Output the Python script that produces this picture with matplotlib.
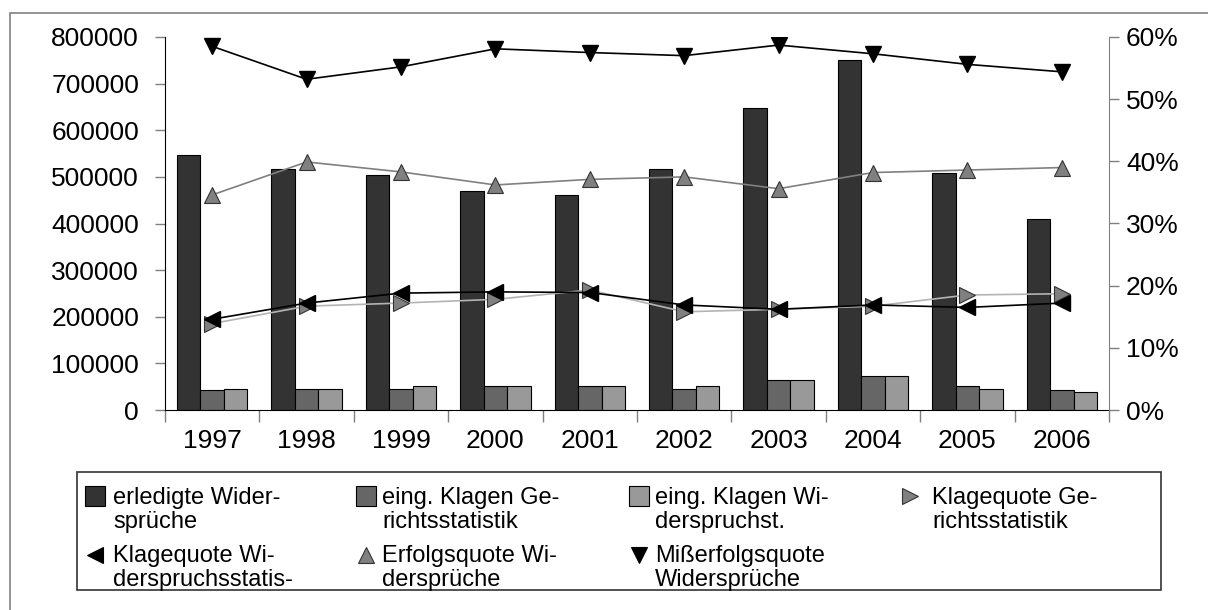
import matplotlib
matplotlib.use("Agg")
from matplotlib import pyplot as plt
from matplotlib.patches import Rectangle
from matplotlib.lines import Line2D
from matplotlib.ticker import FuncFormatter
import numpy as np

plt.rcParams['font.family'] = ['Liberation Sans', 'DejaVu Sans']

YEARS = ["1997", "1998", "1999", "2000", "2001", "2002", "2003", "2004", "2005", "2006"]

# Fallzahlen (linke Achse)
erledigte_widersprueche = [546000, 516000, 504000, 470000, 462000, 516000, 648000, 750000, 509000, 410000]
klagen_gerichtsstatistik = [42000, 46000, 46000, 51000, 51000, 46000, 64000, 72000, 51000, 42000]
klagen_widerspruchsstatistik = [46000, 46000, 51000, 51000, 51000, 51000, 64000, 72000, 46000, 38000]

# Quoten (rechte Achse)
klagequote_gericht = [0.139, 0.167, 0.172, 0.178, 0.193, 0.158, 0.162, 0.167, 0.185, 0.187]
klagequote_widerspruch = [0.146, 0.172, 0.188, 0.190, 0.189, 0.169, 0.162, 0.169, 0.165, 0.172]
erfolgsquote = [0.346, 0.399, 0.383, 0.362, 0.371, 0.375, 0.356, 0.382, 0.386, 0.390]
misserfolgsquote = [0.585, 0.532, 0.552, 0.581, 0.575, 0.570, 0.587, 0.573, 0.556, 0.544]

W, H = 1208, 610


def fx(px):
    return px / W


def fy(py):
    return 1 - py / H


fig = plt.figure(figsize=(W / 100, H / 100), dpi=100)

# outer frame of the chart area
fig.add_artist(Rectangle((fx(10), -0.1), 1.5, fy(13) + 0.1, transform=fig.transFigure,
                         fill=False, ec="#808080", lw=1.2))

ax = fig.add_axes([fx(165), fy(410), fx(1109) - fx(165), fy(37) - fy(410)])
x = np.arange(len(YEARS))
w = 0.248
ax.bar(x - w, erledigte_widersprueche, w, color="#333333", edgecolor="black", linewidth=0.8)
ax.bar(x, klagen_gerichtsstatistik, w, color="#666666", edgecolor="black", linewidth=0.8)
ax.bar(x + w, klagen_widerspruchsstatistik, w, color="#999999", edgecolor="black", linewidth=0.8)

ax.set_xlim(-0.5, len(YEARS) - 0.5)
ax.set_ylim(0, 800000)
ax.set_yticks(np.arange(0, 800001, 100000))
ax.yaxis.set_major_formatter(FuncFormatter(lambda v, p: f"{int(v)}"))
ax.set_xticks(x)
ax.set_xticklabels(YEARS)
ax.set_xticks(np.arange(-0.5, len(YEARS)), minor=True)
ax.tick_params(axis="x", which="major", length=0, pad=14, labelsize=19)
ax.tick_params(axis="x", which="minor", length=8.6, width=1, color="#808080")
ax.tick_params(axis="y", length=7.2, width=1, color="#808080", pad=11.5, labelsize=19)
for side in ("top", "right"):
    ax.spines[side].set_visible(False)
ax.spines["left"].set_color("black")
ax.spines["bottom"].set_color("black")

ax2 = ax.twinx()
ax2.set_ylim(0, 0.6)
ax2.set_yticks(np.arange(0, 0.61, 0.1))
ax2.yaxis.set_major_formatter(FuncFormatter(lambda v, p: f"{v * 100:.0f}%"))
ax2.tick_params(axis="y", length=7.2, width=1, color="#808080", pad=5, labelsize=19)
for side in ("top", "left", "bottom"):
    ax2.spines[side].set_visible(False)
ax2.spines["right"].set_color("#808080")

ax2.plot(x, klagequote_gericht, color="#b3b3b3", lw=1.2, marker=">", ms=11,
         mfc="#808080", mec="#333333", mew=0.8)
ax2.plot(x, klagequote_widerspruch, color="black", lw=1.2, marker="<", ms=11,
         mfc="black", mec="black")
ax2.plot(x, erfolgsquote, color="#808080", lw=1.2, marker="^", ms=12,
         mfc="#808080", mec="#333333", mew=0.8)
ax2.plot(x, misserfolgsquote, color="black", lw=1.2, marker="v", ms=11,
         mfc="black", mec="black")

# legend box, drawn entry by entry
fig.add_artist(Rectangle((fx(77), fy(590)), fx(1161) - fx(77), fy(472) - fy(590),
                         transform=fig.transFigure, fill=False, ec="#333333", lw=1.2))

col_marker = [95, 366, 639, 910]
col_text = [113, 382, 655, 932]
row_marker = [496, 555]
row_base = [(504, 528), (562, 586)]

entries = [
    (0, 0, ("bar", "#333333"), "erledigte Wider-", "sprüche"),
    (1, 0, ("bar", "#666666"), "eing. Klagen Ge-", "richtsstatistik"),
    (2, 0, ("bar", "#999999"), "eing. Klagen Wi-", "derspruchst."),
    (3, 0, (">", "#808080"), "Klagequote Ge-", "richtsstatistik"),
    (0, 1, ("<", "black"), "Klagequote Wi-", "derspruchsstatis-"),
    (1, 1, ("^", "#808080"), "Erfolgsquote Wi-", "dersprüche"),
    (2, 1, ("v", "black"), "Mißerfolgsquote", "Widersprüche"),
]

for col, row, (kind, color), line1, line2 in entries:
    mx, my = col_marker[col], row_marker[row]
    if kind == "bar":
        fig.add_artist(Rectangle((fx(mx - 10), fy(my + 10)), 20 / W, 20 / H,
                                 transform=fig.transFigure, fc=color, ec="black", lw=0.8))
    else:
        fig.add_artist(Line2D([fx(mx)], [fy(my)], transform=fig.transFigure, marker=kind,
                              ms=11, mfc=color, mec="#333333" if color != "black" else "black",
                              mew=0.8, ls="none"))
    b1, b2 = row_base[row]
    fig.text(fx(col_text[col]), fy(b1), line1, fontsize=17, va="baseline", ha="left")
    fig.text(fx(col_text[col]), fy(b2), line2, fontsize=17, va="baseline", ha="left")

fig.savefig("out.png", dpi=100)
